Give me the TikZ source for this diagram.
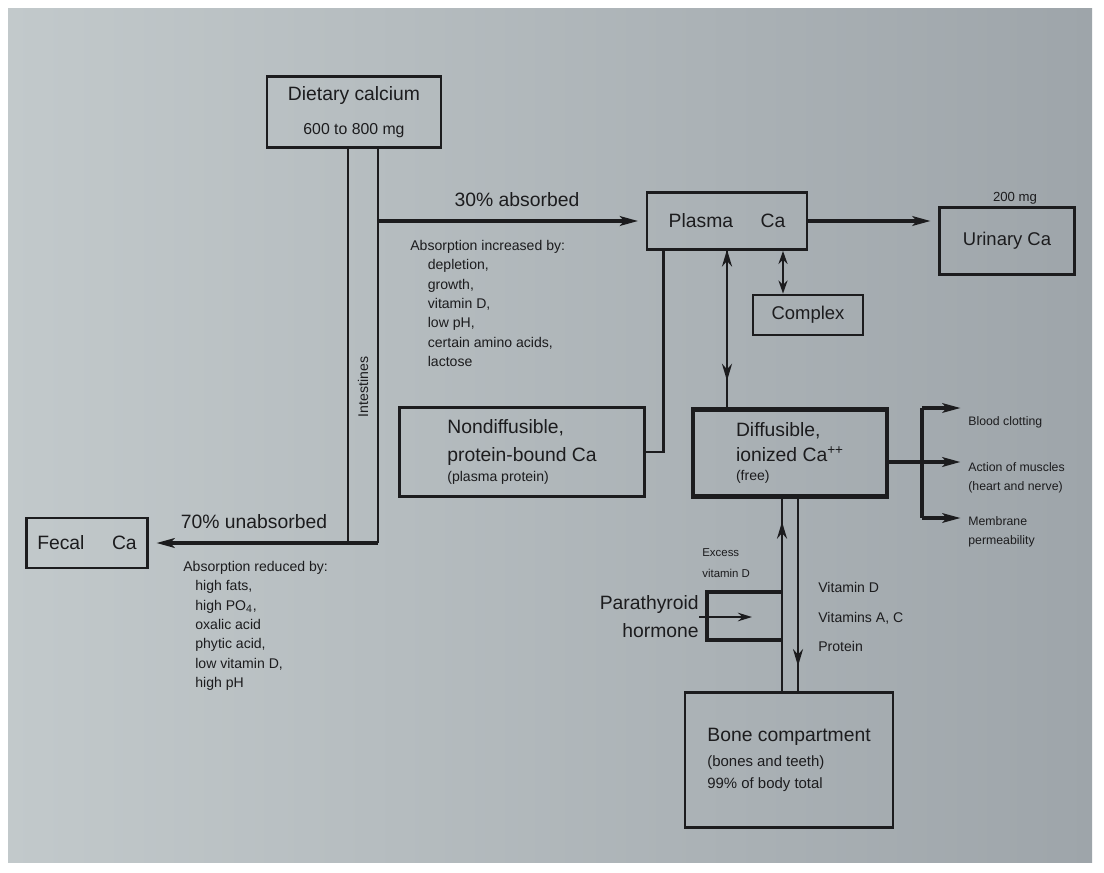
\documentclass[tikz,border=0pt]{standalone}
\usepackage{fontspec}
\setmainfont{Liberation Sans}
\usetikzlibrary{arrows.meta, positioning, calc, decorations.markings}
\definecolor{paper}{RGB}{194,201,203}
\definecolor{paperdk}{RGB}{158,165,170}
\definecolor{ink}{RGB}{28,28,30}

\begin{document}
\begin{tikzpicture}[
        x=0.02cm, y=-0.02cm,
        >={Stealth[length=3.6mm, width=1.9mm, inset=0.8mm]},
        every node/.style={text=ink},
        box/.style={draw=ink, line width=1.6pt, inner sep=0pt, align=center, font=\fontsize{11}{14}\selectfont},
        bigflow/.style={->, draw=ink, line width=2.6pt, shorten >=1.5mm},
        link/.style={draw=ink, line width=1.4pt},
        gut/.style={draw=ink, line width=1pt},
        lst/.style={align=left, inner sep=0pt, font=\fontsize{8}{11}\selectfont},
        lbl/.style={inner sep=0pt, font=\fontsize{11}{13}\selectfont},
        tiny/.style={inner sep=0pt, align=left, font=\fontsize{7}{10.8}\selectfont},
        tipfwd/.style={postaction={decorate, decoration={markings, mark=at position #1 with {\arrow{Stealth[length=3.4mm, width=2mm]}}}}},
        tipbwd/.style={postaction={decorate, decoration={markings, mark=at position #1 with {\arrow{Stealth[length=3.4mm, width=2mm, reversed]}}}}}
    ]
        \useasboundingbox (0,0) rectangle (1104,872);
        \fill[white] (0,0) rectangle (1104,872);
        \shade[left color=paper, right color=paperdk] (8,8) rectangle (1092,862);

        % --- Intake and gut ---
        \node[box, minimum width=3.48cm, minimum height=1.42cm] (diet) at (354,112) {Dietary calcium\\[5pt]{\fontsize{9}{10}\selectfont 600 to 800 mg}};
        \coordinate (gutL) at (348,543);
        \coordinate (gutR) at (378,543);
        \node[inner sep=0pt, rotate=90, font=\fontsize{8}{9}\selectfont] (intes) at (363,387) {Intestines};
        \node[box, minimum width=2.42cm, minimum height=1.0cm] (fecal) at (87,543) {Fecal\hspace{5.5mm}Ca};

        % --- Plasma and its pools ---
        \node[box, minimum width=3.2cm, minimum height=1.14cm] (plasma) at (727,221) {Plasma\hspace{5.5mm}Ca};
        \node[box, minimum width=2.7cm, minimum height=1.34cm, font=\fontsize{10.5}{13}\selectfont] (urine) at (1007,241) {Urinary Ca};
        \node[inner sep=0pt, font=\fontsize{7.5}{9}\selectfont] (uamt) at (1015,198) {200 mg};
        \node[box, minimum width=2.2cm, minimum height=0.8cm, font=\fontsize{10.5}{13}\selectfont] (complex) at (808,315) {Complex};
        \node[box, minimum width=4.9cm, minimum height=1.78cm, align=left] (nondiff) at (522,452) {Nondiffusible,\\[2pt]protein-bound Ca\\[-3pt]{\fontsize{8}{9}\selectfont (plasma protein)}};
        \node[box, line width=2.4pt, minimum width=3.88cm, minimum height=1.74cm, align=left] (diff) at (790,453) {Diffusible,\\ionized Ca\textsuperscript{++}\\[-3pt]{\fontsize{8}{9}\selectfont (free)}};
        \node[box, minimum width=4.16cm, minimum height=2.7cm, align=left] (bone) at (789,760) {Bone compartment\\{\fontsize{8.5}{12.5}\selectfont (bones and teeth)}\\[-1.5pt]{\fontsize{8.5}{12.5}\selectfont 99\% of body total}};

        % --- Absorption texts ---
        \node[lbl] (absd) at (517,200) {30\% absorbed};
        \node[lst, anchor=north west] (incr) at (410,240) {Absorption increased by:\\
            \hspace*{3.5mm}depletion,\\ \hspace*{3.5mm}growth,\\ \hspace*{3.5mm}vitamin D,\\
            \hspace*{3.5mm}low pH,\\ \hspace*{3.5mm}certain amino acids,\\ \hspace*{3.5mm}lactose};
        \node[lbl] (unabs) at (254,522) {70\% unabsorbed};
        \node[lst, anchor=north west] (redu) at (183,561) {Absorption reduced by:\\
            \hspace*{2.4mm}high fats,\\ \hspace*{2.4mm}high PO\textsubscript{4},\\ \hspace*{2.4mm}oxalic acid\\
            \hspace*{2.4mm}phytic acid,\\ \hspace*{2.4mm}low vitamin D,\\ \hspace*{2.4mm}high pH};

        % --- Uses of ionized Ca ---
        \node[tiny, anchor=west] (clot) at (968,422) {Blood clotting};
        \node[tiny, anchor=west] (musc) at (968,478) {Action of muscles\\(heart and nerve)};
        \node[tiny, anchor=west] (memb) at (968,532) {Membrane\\permeability};
        \coordinate (fTop) at (922,408);
        \coordinate (fMid) at (922,462);
        \coordinate (fBot) at (922,518);

        % --- Bone exchange ---
        \coordinate (upL) at ($(diff.south)+(-8,0)$);
        \coordinate (dnR) at ($(diff.south)+(8,0)$);
        \coordinate (brkT) at (707,592);
        \coordinate (brkB) at (707,640);
        \coordinate (pthTip) at (752,617);
        \node[lbl, align=right, anchor=east, font=\fontsize{11}{16}\selectfont] (pth) at (699,617) {Parathyroid\\hormone};
        \node[tiny, anchor=west, font=\fontsize{6.5}{12}\selectfont] (xsd) at (702,563) {Excess\\vitamin D};
        \node[lst, anchor=west, font=\fontsize{8}{17}\selectfont] (vits) at (818,617) {Vitamin D\\Vitamins A, C\\Protein};

        % --- Connectors ---
        \draw[gut] (gutL |- diet.south) -- (gutL);
        \draw[gut] (gutR |- diet.south) -- (gutR);
        \draw[bigflow] (gutR |- plasma.west) -- (plasma.west);
        \draw[bigflow] (gutR) -- (fecal.east);
        \draw[bigflow] (plasma.east) -- (plasma.east -| urine.west);
        \coordinate (cpx) at ($(complex.north)+(-25,0)$);
        \draw[link, <->, >={Stealth[length=2.6mm, width=1.8mm]}] (cpx |- plasma.south) -- (cpx);
        \draw[link, tipbwd=0.1, tipfwd=0.83] (plasma.south) -- (plasma.south |- diff.north);
        \coordinate (pb) at ($(plasma.south west)+(18,0)$);
        \draw[link] (pb) |- (nondiff.east);
        \draw[link, line width=1.8pt] (fTop) -- (fBot);
        \draw[bigflow] (fMid -| diff.east) -- (fMid -| musc.west);
        \draw[->, link, line width=1.8pt, shorten >=1.5mm] (fTop) -- (fTop -| clot.west);
        \draw[->, link, line width=1.8pt, shorten >=1.5mm] (fBot) -- (fBot -| memb.west);
        \draw[link, tipfwd=0.88] (upL |- bone.north) -- (upL);
        \draw[link, tipfwd=0.87] (dnR) -- (dnR |- bone.north);
        \draw[link, line width=2pt] (brkT -| upL) -- (brkT) -- (brkB) -- (brkB -| upL);
        \draw[->, link, >={Stealth[length=2.8mm, width=1.7mm]}] (pth.east) -- (pthTip);
    \end{tikzpicture}
\end{document}
